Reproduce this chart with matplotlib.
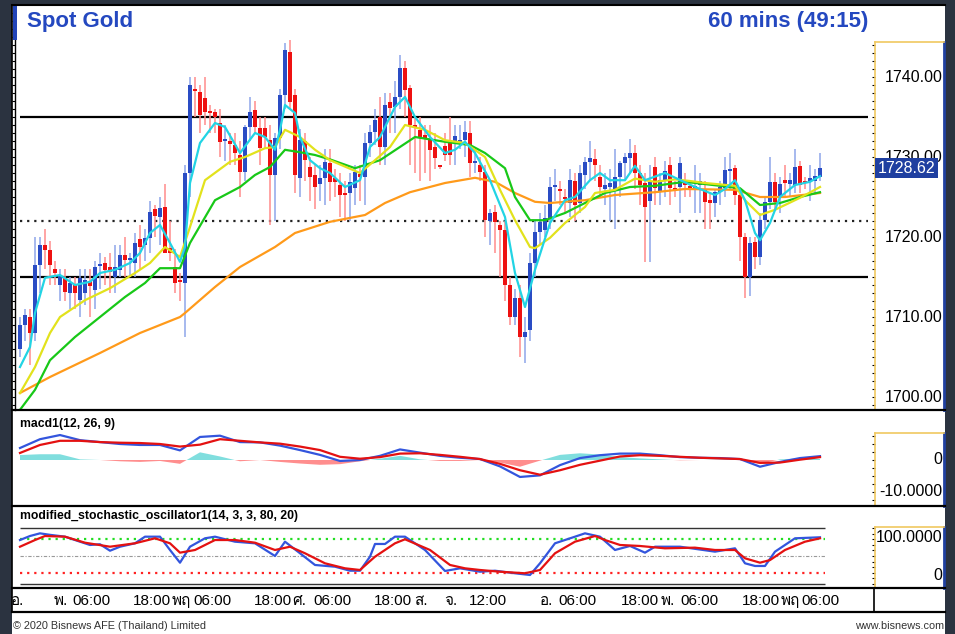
import numpy as np
import matplotlib
matplotlib.use("Agg")
import matplotlib.pyplot as plt
from matplotlib import font_manager
from matplotlib.ft2font import FT2Font
from matplotlib.patches import Rectangle
from matplotlib.lines import Line2D

# ---- hourly candles (Spot Gold, 60 mins) ----
opens = [1706, 1709, 1710, 1708, 1716.5, 1719, 1718.4, 1716, 1714, 1714.9,
         1713, 1714, 1712.1, 1713, 1714.5, 1713.4, 1716.4, 1716.8, 1716.2, 1715,
         1715.9, 1717.8, 1717.1, 1716.8, 1719.8, 1719, 1719.9, 1723.5, 1722.5, 1723.8,
         1718.6, 1716.3, 1714.6, 1714.3, 1728, 1738.5, 1738.1, 1737.4, 1735.8, 1735.6,
         1734.3, 1732, 1732, 1731.5, 1730.3, 1728.1, 1733.8, 1735.9, 1733.6, 1733.6,
         1732.1, 1727.8, 1732.4, 1737.8, 1743.1, 1737.8, 1727.4, 1732, 1728.8, 1727.8,
         1726.6, 1727.4, 1729.3, 1727.4, 1726.5, 1725.4, 1725.5, 1726.1, 1727.9, 1727.5,
         1731.8, 1733.1, 1735, 1731.3, 1736.9, 1736.3, 1737.5, 1741.1, 1738.6, 1734,
         1733.4, 1732.8, 1732.1, 1731.3, 1728.8, 1731.4, 1732.1, 1731.8, 1731.9, 1732.1,
         1733, 1729.2, 1729, 1728.1, 1722, 1723.1, 1721.5, 1720.9, 1714, 1710,
         1712.4, 1707.5, 1708.4, 1716.8, 1720.6, 1720.9, 1722.4, 1726.2, 1725.9, 1725,
         1724.3, 1727, 1724.3, 1727.8, 1729.4, 1729.8, 1727.5, 1726, 1726.2, 1726,
         1727.5, 1729.3, 1729.9, 1730.5, 1728, 1726.8, 1724.5, 1728.8, 1725.6, 1727,
         1729, 1726, 1726.3, 1727, 1726.2, 1725.9, 1726.5, 1725.9, 1724.6, 1724.25,
         1725.6, 1726.1, 1728.2, 1728.6, 1725.3, 1720, 1715, 1719.4, 1717.5, 1722.1,
         1724.4, 1726.9, 1725, 1727.1, 1726.6, 1726.5, 1728.9, 1726.9, 1726.9, 1727,
         1727.5]
highs = [1710, 1711, 1711, 1720, 1720, 1721, 1719.5, 1717, 1716, 1716,
         1715, 1715, 1716, 1716, 1716, 1717, 1718, 1717.5, 1718, 1719,
         1719, 1720, 1718, 1720.5, 1721.5, 1721, 1724.5, 1724, 1725, 1726.6,
         1722, 1718.5, 1715.5, 1729, 1740, 1740, 1739, 1740, 1736.5, 1736,
         1736, 1734, 1733, 1733, 1732, 1734, 1737.5, 1737, 1735, 1735,
         1734, 1733, 1738.5, 1744.3, 1744.6, 1738.5, 1733.5, 1733, 1730, 1729,
         1729, 1731, 1731, 1728.5, 1728, 1727, 1728, 1729, 1729, 1733,
         1734, 1736, 1737.5, 1738, 1738, 1739.5, 1742.8, 1742, 1739, 1735,
         1735, 1734, 1734, 1733, 1729, 1733, 1735, 1734, 1734, 1734.5,
         1734.5, 1731, 1730, 1729, 1723.5, 1724, 1722, 1722, 1715, 1713.5,
         1714, 1710, 1718, 1722, 1723, 1724, 1727.5, 1728.5, 1727, 1726,
         1728.5, 1728, 1729, 1730, 1732, 1731, 1729, 1728, 1728.5, 1731,
         1729.5, 1730.5, 1732.3, 1731.5, 1729, 1728, 1729, 1730, 1728, 1729.5,
         1730, 1727, 1730, 1728, 1727, 1729, 1728, 1727, 1725.5, 1726,
         1727, 1730, 1730.5, 1729, 1726, 1720.5, 1720, 1720, 1723, 1725,
         1730, 1728, 1727.5, 1729, 1728, 1731, 1729.5, 1727.5, 1729, 1728.5,
         1730.5]
lows = [1705, 1707, 1704, 1707, 1713, 1716, 1714, 1714, 1712, 1712,
        1711, 1711, 1710, 1711.5, 1710, 1711, 1713.5, 1714, 1713, 1713,
        1715, 1715, 1715, 1715, 1716, 1717, 1718, 1720, 1719, 1718,
        1717, 1713, 1712, 1707.5, 1725, 1735, 1733, 1734, 1733, 1733,
        1730, 1729.5, 1729, 1729, 1725, 1727, 1732, 1733, 1729, 1731,
        1721.5, 1722, 1731, 1736, 1736, 1725.5, 1725, 1727, 1724.5, 1723.5,
        1724.5, 1724, 1724.5, 1725, 1722.5, 1722, 1722, 1724, 1724.5, 1724,
        1730, 1731.5, 1729, 1729, 1733, 1733, 1736, 1735, 1729, 1728,
        1727, 1728, 1727, 1728.5, 1728.5, 1729.5, 1729, 1729, 1731, 1730,
        1727.5, 1728, 1727, 1720, 1719, 1718, 1715, 1712, 1709, 1709,
        1705, 1704.3, 1707, 1715, 1719, 1720, 1721, 1724.5, 1724, 1723,
        1722.5, 1722, 1723, 1726, 1727, 1727, 1725, 1724, 1722, 1721,
        1725, 1727, 1728, 1726, 1724, 1716.9, 1716.9, 1724, 1724, 1725,
        1724, 1725, 1723, 1725, 1725, 1723, 1723, 1721, 1721, 1722.5,
        1724, 1725, 1726, 1724, 1717, 1712.4, 1712.6, 1716, 1716.5, 1721,
        1723.5, 1723.5, 1723, 1725, 1725, 1725.5, 1725.5, 1726, 1724.5, 1725.5,
        1727]
closes = [1709, 1710.3, 1708, 1716.5, 1719, 1718.4, 1716.5, 1715.5, 1715.1, 1713.1,
          1714.2, 1713, 1714.9, 1714.6, 1713.9, 1716.2, 1716.6, 1715.9, 1715.6, 1716.2,
          1717.8, 1717.1, 1717.3, 1719.2, 1718.8, 1719.9, 1723.1, 1722.6, 1723.6, 1718,
          1718, 1714.3, 1714.4, 1728, 1739, 1738.3, 1735.3, 1735.6, 1735.5, 1735,
          1731.9, 1732.1, 1731.6, 1730.5, 1728.1, 1733.8, 1735.6, 1733.8, 1731.1, 1732.5,
          1727.8, 1732.4, 1737.8, 1743.4, 1736.9, 1727.8, 1732.1, 1729.6, 1727.5, 1726.3,
          1727.4, 1729.4, 1726.9, 1726.9, 1725.3, 1725.2, 1726.9, 1728.1, 1727.5, 1731.8,
          1733.1, 1734.6, 1731.3, 1736.5, 1736.1, 1737.5, 1741.1, 1738.4, 1734, 1733.6,
          1732.5, 1732.3, 1730.9, 1729.9, 1728.7, 1730.3, 1730.3, 1732.6, 1732.1, 1733.1,
          1729.3, 1729.4, 1728.1, 1722.1, 1723, 1721.9, 1720.9, 1714, 1710, 1712.4,
          1707.5, 1708.1, 1716.8, 1720.6, 1721.9, 1722.4, 1726.3, 1726.5, 1725.7, 1724.8,
          1727.1, 1724, 1728, 1729.4, 1729.9, 1729, 1726.3, 1726.5, 1726.8, 1727.5,
          1729.3, 1730, 1730.5, 1728, 1726.5, 1723.8, 1726.9, 1726.1, 1727.1, 1728.3,
          1726.1, 1725.9, 1729.3, 1726.5, 1726.1, 1726.4, 1727, 1724.4, 1724.2, 1725.6,
          1726.2, 1728.4, 1728.3, 1725.3, 1720, 1715, 1719.3, 1717.5, 1722.1, 1724.4,
          1726.9, 1724.4, 1726.6, 1726.8, 1727.1, 1728.8, 1726.5, 1726.7, 1727.4, 1727.6,
          1728.6]
last_price = 1728.62
levels_solid = [1735, 1715]
level_dotted = 1722

# moving averages (candle index, price)
cyan_idx = [0, 2, 3, 5, 8, 11, 14, 16, 19, 22, 24, 26, 28, 30, 32, 33, 34, 36, 39, 41,
            44, 47, 49, 51, 52, 53, 55, 56, 58, 60, 62, 65, 68, 70, 72, 75, 77, 79, 82, 85,
            87, 89, 91, 94, 97, 99, 101, 103, 106, 109, 111, 114, 116, 118, 121, 123, 125, 129, 135, 139,
            141, 143, 145, 147, 148, 150, 152, 155, 158, 160]
cyan_val = [1703.75, 1706.25, 1710.5, 1714.9, 1715.25, 1714, 1714.4, 1715.5, 1715.9, 1716.75,
            1718, 1720.5, 1721.5, 1719.25, 1716.9, 1718.75, 1726.75, 1731.75, 1734.25, 1733.75,
            1730.5, 1733, 1732.5, 1730.9, 1733.4, 1736.5, 1735.5, 1732.5, 1729.6, 1728.6,
            1728, 1726.25, 1727.1, 1731.25, 1732.5, 1736.25, 1737.5, 1735, 1732.5, 1730.5,
            1730.9, 1731.9, 1730.5, 1727.1, 1722.5, 1715.5, 1711.25, 1715.9, 1721.75, 1724.6,
            1725, 1727.1, 1728, 1727.1, 1727.1, 1728.9, 1727.1, 1728, 1726.25, 1725.25,
            1726, 1727.1, 1724.6, 1720.5, 1719.6, 1721.75, 1725, 1726.5, 1726.9, 1727.6]
yellow_idx = [0, 3, 6, 8, 13, 18, 23, 26, 29, 32, 34, 37, 42, 45, 49, 51, 53, 56, 59, 62,
              68, 71, 74, 77, 81, 85, 89, 93, 96, 99, 102, 103, 106, 109, 113, 115, 119, 123, 127, 131,
              134, 137, 143, 145, 148, 151, 156, 160]
yellow_val = [1700.5, 1703.75, 1708, 1710, 1712.1, 1713.6, 1715.5, 1716.75, 1718.75, 1717.5,
              1721.25, 1727.1, 1729.4, 1730, 1731.1, 1731.25, 1733.4, 1732.5, 1730.9, 1729.6,
              1728, 1729.6, 1731.25, 1734, 1733.4, 1732.1, 1731.75, 1730, 1725.9, 1722.1,
              1718.75, 1718.6, 1719.9, 1721.75, 1723.75, 1725.5, 1725.9, 1727.3, 1726.9, 1727.2,
              1727, 1726.75, 1726.4, 1724.6, 1722.75, 1723.4, 1724.9, 1726.25]
green_idx = [0, 3, 6, 11, 16, 21, 25, 28, 32, 34, 39, 44, 47, 50, 53, 56, 59, 62, 67, 72,
             79, 85, 90, 93, 97, 99, 102, 105, 109, 113, 117, 122, 127, 133, 140, 144, 148, 152, 156, 160]
green_val = [1698.4, 1700.9, 1704.6, 1707.5, 1710, 1712.5, 1714.25, 1716.1, 1716.1, 1719.25,
             1724.6, 1726.25, 1727.75, 1728.75, 1730.9, 1730.6, 1730.25, 1729.7, 1728.6, 1729.6,
             1732.5, 1731.9, 1731.5, 1730.5, 1728.6, 1725, 1722.1, 1722.1, 1723, 1724.25,
             1725.5, 1726.25, 1726.4, 1726.9, 1726.4, 1726.1, 1724, 1724.25, 1725, 1725.6]
orange_idx = [0, 6, 16, 24, 32, 33, 39, 44, 51, 55, 62, 69, 73, 78, 85, 91, 95, 99, 103, 106,
              113, 119, 127, 133, 143, 148, 153, 160]
orange_val = [1700.5, 1702.5, 1705.5, 1708, 1710, 1710.5, 1713.75, 1716.25, 1718.75, 1720.5,
              1721.9, 1722.75, 1724.25, 1725.6, 1726.75, 1727.4, 1726.9, 1725.5, 1724.4, 1724.25,
              1724.6, 1725.25, 1725.6, 1726, 1725.9, 1725, 1725, 1725.5]

# macd1(12, 26, 9), read every 4 candles
macd_idx = list(range(0, 161, 4))
macd_line = [3.75, 6.5, 7.8, 6.2, 5.6, 5.0, 4.7, 4.7, 3.0, 7.2,
             7.6, 5.6, 5.5, 4.5, 3.1, 1.6, -0.3, 0.0, 1.3, 3.3,
             2.3, 1.3, 0.7, 0.3, -2.0, -5.3, -4.8, -1.6, 0.6, 1.5,
             2.0, 2.0, 1.5, 0.9, 0.7, 0.6, 0.3, -2.1, -0.6, 0.6, 1.2]
macd_signal = [2.2, 4.7, 6.0, 6.0, 5.6, 5.4, 5.3, 5.0, 4.2, 4.8,
               6.5, 6.0, 5.5, 5.1, 4.2, 3.1, 1.0, 0.4, 0.9, 2.0,
               2.1, 1.6, 1.0, 0.3, -1.2, -3.2, -4.6, -3.2, -1.5, -0.2,
               1.1, 1.5, 1.3, 1.0, 0.7, 0.5, 0.3, -0.9, -0.8, 0.1, 0.9]

# modified stochastic (14, 3, 3, 80, 20)
k_idx = [0, 2, 4, 6, 9, 12, 14, 16, 18, 20, 23, 25, 28, 30, 32, 34, 37, 39, 43, 47,
         51, 53, 56, 59, 63, 66, 68, 70, 71, 73, 75, 77, 81, 85, 88, 92, 95, 99, 102, 104,
         107, 111, 113, 116, 119, 122, 125, 127, 132, 139, 143, 145, 147, 149, 151, 155, 160]
k_val = [78.6, 85.8, 90.6, 87.9, 84.6, 75.6, 69.7, 71, 59.4, 66.6, 72.7, 84.6, 84.6, 60.7, 37.9,
         66.6, 81.7, 84.6, 75.6, 72.7, 49.9, 75.6, 54.8, 33.8, 30.7, 23.5, 23.5, 48.7, 71.5, 71.5,
         84.6, 84.6, 60.7, 23, 27.8, 21.7, 23.5, 18.9, 15.8, 36.8, 72.7, 84.6, 90.6, 84.6, 60.7,
         67.9, 55.9, 66.6, 66.6, 57.7, 63.7, 36.8, 32, 32, 57.7, 81.7, 83.5]
d_idx = [0, 3, 5, 9, 13, 18, 23, 27, 30, 32, 35, 39, 43, 47, 51, 54, 57, 61, 65, 68,
         71, 75, 77, 82, 86, 89, 92, 96, 101, 104, 107, 111, 115, 117, 120, 124, 129, 135, 139, 143,
         145, 148, 150, 153, 157, 160]
d_val = [66.6, 78.6, 85.8, 84.6, 73.8, 66.6, 72.7, 81.7, 72.7, 55.9, 60.7, 78.6, 78.6, 73.8, 60.7,
         66.6, 54.8, 36.8, 27.8, 24.8, 48.7, 72.7, 79.9, 60.7, 33.8, 27.8, 24.8, 21.7, 18.9, 24.8,
         54.8, 75.6, 85.8, 78.6, 69.7, 67.9, 63.7, 64.9, 60.7, 60.7, 45.8, 37.9, 42.6, 60.7, 75.6, 81.7]

# x axis labels (candle index, text)
xlab_idx = [-0.4, 8.2, 14.2, 26.4, 32.2, 38.4, 50.6, 55.8, 62.4, 74.6, 80.2, 86.2, 93.6,
            105.4, 111.4, 124, 129.6, 135.8, 148.2, 154, 160]
xlab_txt = ["อ.", "พ.", "06:00", "18:00", "พฤ", "06:00", "18:00", "ศ.", "06:00", "18:00", "ส.",
            "จ.", "12:00", "อ.", "06:00", "18:00", "พ.", "06:00", "18:00", "พฤ", "06:00"]

# ---- fonts ----
names = {f.name for f in font_manager.fontManager.ttflist}
narrow = "Liberation Sans Narrow" if "Liberation Sans Narrow" in names else "Liberation Sans"
thai = []
for f in font_manager.fontManager.ttflist:
    try:
        if 0x0E1E in FT2Font(f.fname).get_charmap():
            thai.append(f.name)
    except Exception:
        pass
label_fonts = [narrow] + thai[:1] + ["DejaVu Sans"]

W, H = 955, 634
BLUE = "#2a4cc4"
RED = "#ee1111"
AX_FS = 11.5


def box(x0, y0, x1, y1):
    # pixel rectangle (top-left origin) -> figure fraction
    return [x0 / W, 1 - y1 / H, (x1 - x0) / W, (y1 - y0) / H]


def hline(y, x0=12, x1=945, lw=1.6, color="black"):
    fig.add_artist(Line2D([x0 / W, x1 / W], [1 - y / H, 1 - y / H], color=color, lw=lw))


def price_at(y):
    return 1740 - (y - 77) / 8.0


def macd_at(y):
    return (460 - y) / 3.2


def stoch_at(y):
    return (583.8 - y) / 0.557


fig = plt.figure(figsize=(W / 100, H / 100), dpi=100)
fig.patch.set_facecolor("#2b3340")
fig.add_artist(Rectangle((12 / W, 0), (945 - 12) / W, (634 - 5) / H,
                         transform=fig.transFigure, fc="white", ec="none", zorder=-5))
fig.add_artist(Rectangle((13 / W, 1 - 40 / H), 4 / W, 35 / H,
                         transform=fig.transFigure, fc="#2244b8", ec="none"))

o = np.array(opens)
hi = np.array(highs)
lo = np.array(lows)
c = np.array(closes)
idx = np.arange(len(c))
up = c >= o
XL = (-1, 170)

# ---- main price panel ----
ax = fig.add_axes(box(15, 5, 870, 410))
ax.set_facecolor("none")
ax.set_xlim(*XL)
ax.set_ylim(price_at(410), price_at(5))
for s in ["top", "right", "bottom"]:
    ax.spines[s].set_visible(False)
ax.spines["left"].set_linewidth(1.0)
ax.set_xticks([])
ax.set_yticks(np.arange(1699, 1749, 1.0))
ax.set_yticklabels([])
ax.tick_params(axis="y", direction="out", length=2.5, width=0.8)

ax.vlines(idx[up], lo[up], hi[up], color="#8ea6ea", lw=1.1, zorder=2)
ax.vlines(idx[~up], lo[~up], hi[~up], color="#ff8c8c", lw=1.1, zorder=2)
body = np.maximum(np.abs(c - o), 0.25)
ax.bar(idx, body, bottom=np.minimum(o, c), width=0.72,
       color=np.where(up, BLUE, RED), lw=0, zorder=3)

ax.hlines(levels_solid, 0, 169.6, color="black", lw=1.6, zorder=1)
ax.hlines(level_dotted, 0, 169.6, color="#222222", lw=1.6, linestyles=(0, (1, 2.2)), zorder=1)

ax.plot(orange_idx, orange_val, color="#ff9a1a", lw=1.6, zorder=4)
ax.plot(green_idx, green_val, color="#18c818", lw=1.6, zorder=4)
ax.plot(yellow_idx, yellow_val, color="#e2e21c", lw=1.6, zorder=4)
ax.plot(cyan_idx, cyan_val, color="#22d4e4", lw=1.6, zorder=5)

fig.text(27 / W, 1 - 22 / H, "Spot Gold", color="#2448c0", fontsize=16,
         fontweight="bold", family="Liberation Sans", va="center", ha="left")
fig.text(868 / W, 1 - 22 / H, "60 mins (49:15)", color="#2448c0", fontsize=16,
         fontweight="bold", family="Liberation Sans", va="center", ha="right")


def side_box(rect, ylim, step):
    a = fig.add_axes(rect)
    a.set_xlim(0, 1)
    a.set_ylim(*ylim)
    a.set_xticks([])
    a.set_yticks(np.arange(np.ceil(ylim[0] / step) * step, ylim[1], step))
    a.set_yticklabels([])
    a.tick_params(axis="y", direction="out", length=2.5, width=0.8)
    a.spines["bottom"].set_visible(False)
    a.spines["left"].set_color("#f0c860")
    a.spines["top"].set_color("#f0c860")
    a.spines["left"].set_linewidth(1.2)
    a.spines["top"].set_linewidth(1.2)
    a.spines["right"].set_color("#2040a0")
    a.spines["right"].set_linewidth(2)
    return a


axr = side_box(box(875, 42, 944, 410), (price_at(410), price_at(42)), 1.0)
for p in [1740, 1730, 1720, 1710, 1700]:
    axr.text(0.975, p, f"{p:.2f}", ha="right", va="center", fontsize=AX_FS,
             family=label_fonts, transform=axr.get_yaxis_transform())
axr.text(0.04, last_price, f"{last_price:.2f}", ha="left", va="center", fontsize=AX_FS,
         family=label_fonts, color="white", zorder=5, transform=axr.get_yaxis_transform(),
         bbox=dict(boxstyle="square,pad=0.15", fc="#1f3fa0", ec="none"))

# ---- MACD panel ----
axm = fig.add_axes(box(15, 410, 870, 506))
axm.set_facecolor("none")
axm.set_xlim(*XL)
axm.set_ylim(macd_at(506), macd_at(410))
axm.axis("off")
ml = np.array(macd_line)
ms = np.array(macd_signal)
hist = ml - ms
axm.fill_between(macd_idx, 0, hist, where=hist >= 0, interpolate=True, color="#80dede", lw=0)
axm.fill_between(macd_idx, 0, hist, where=hist < 0, interpolate=True, color="#ff8e8e", lw=0)
axm.plot(macd_idx, ml, color="#3355dd", lw=1.6)
axm.plot(macd_idx, ms, color="#e41111", lw=1.6)
fig.text(20 / W, 1 - 424 / H, "macd1(12, 26, 9)", fontsize=8.8, fontweight="bold",
         family=label_fonts, va="center")

axmr = side_box(box(875, 433, 944, 506), (macd_at(506), macd_at(433)), 2.5)
axmr.text(0.975, 0, "0", ha="right", va="center", fontsize=AX_FS, family=label_fonts,
          transform=axmr.get_yaxis_transform())
axmr.text(0.975, -10, "-10.0000", ha="right", va="center", fontsize=AX_FS, family=label_fonts,
          transform=axmr.get_yaxis_transform())

# ---- stochastic panel ----
axs = fig.add_axes(box(15, 506, 870, 588))
axs.set_facecolor("none")
axs.set_xlim(*XL)
axs.set_ylim(stoch_at(588), stoch_at(506))
axs.axis("off")
axs.hlines([100, 0], 0, 161, color="#333333", lw=1.0)
axs.hlines(80, 0, 161, color="#22dd22", lw=1.6, linestyles=(0, (1, 2.2)))
axs.hlines(50, 0, 161, color="#999999", lw=0.8, linestyles=(0, (3, 1.5, 1, 1.5)))
axs.hlines(20, 0, 161, color="#ff2222", lw=1.6, linestyles=(0, (1, 2.2)))
axs.plot(k_idx, k_val, color="#3355dd", lw=1.6)
axs.plot(d_idx, d_val, color="#e41111", lw=1.6)
fig.text(20 / W, 1 - 516 / H, "modified_stochastic_oscillator1(14, 3, 3, 80, 20)",
         fontsize=8.8, fontweight="bold", family=label_fonts, va="center")

axsr = side_box(box(875, 527, 944, 588), (stoch_at(588), stoch_at(527)), 10)
fig.text(942 / W, 1 - 537 / H, "100.0000", ha="right", va="center", fontsize=AX_FS, family=label_fonts)
fig.text(942 / W, 1 - 575 / H, "0", ha="right", va="center", fontsize=AX_FS, family=label_fonts)

# ---- time axis ----
axx = fig.add_axes(box(15, 588, 870, 612))
axx.set_facecolor("none")
axx.set_xlim(*XL)
axx.set_ylim(0, 1)
axx.axis("off")
for xi, t in zip(xlab_idx, xlab_txt):
    axx.text(xi, 0.45, t, ha="center", va="center", fontsize=11, family=label_fonts)

# frame lines
hline(5, lw=1.5)
hline(410)
hline(506)
hline(588)
hline(612)
fig.add_artist(Line2D([874 / W, 874 / W], [1 - 588 / H, 1 - 612 / H], color="black", lw=1.2))
fig.add_artist(Line2D([12 / W, 12 / W], [1 - 5 / H, 1 - 612 / H], color="black", lw=1.2))

fig.text(13 / W, 1 - 626 / H, "© 2020 Bisnews AFE (Thailand) Limited", fontsize=7.8,
         family=label_fonts, color="#333333", va="center")
fig.text(944 / W, 1 - 626 / H, "www.bisnews.com", fontsize=7.8, family=label_fonts,
         color="#333333", va="center", ha="right")

fig.savefig("out.png", dpi=100, facecolor=fig.get_facecolor())
